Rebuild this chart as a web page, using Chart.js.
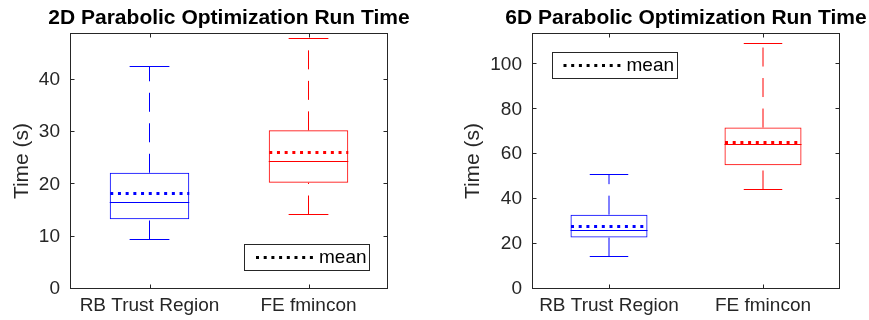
<!DOCTYPE html>
<html>
<head>
<meta charset="utf-8">
<script src="https://cdn.jsdelivr.net/npm/chart.js@4.4.1/dist/chart.umd.min.js"></script>
<style>
  html, body { margin: 0; padding: 0; background: #fff; }
  #wrap { display: flex; width: 869px; height: 320px; }
  canvas { display: block; }
</style>
</head>
<body>
<div id="wrap">
  <canvas id="run2d" width="435" height="320"></canvas>
  <canvas id="run6d" width="434" height="320"></canvas>
</div>
<script>
/* Box plots of optimisation run time, two panels (2D and 6D parabolic).
   Boxes are floating bars, whiskers / medians / means are drawn by a
   small plugin from the arrays below through the chart's own scales. */

const categories = ['RB Trust Region', 'FE fmincon'];
const boxColors = ['#0000ff', '#ff0000'];

// 2D parabolic optimisation run time (s)
const lower2d  = [9.6, 14.3];
const q1_2d    = [13.3, 20.3];
const median2d = [16.7, 24.4];
const q3_2d    = [22.2, 30.3];
const upper2d  = [42.6, 48.0];
const mean2d   = [18.4, 26.1];
const yTicks2d = [0, 10, 20, 30, 40];

// 6D parabolic optimisation run time (s)
const lower6d  = [14.9, 44.4];
const q1_6d    = [22.9, 55.1];
const median6d = [26.1, 64.4];
const q3_6d    = [33.1, 71.9];
const upper6d  = [51.1, 109.7];
const mean6d   = [27.9, 65.6];
const yTicks6d = [0, 20, 40, 60, 80, 100];

const INK = '#262626';
const FONT = "'Liberation Sans', Arial, sans-serif";

Chart.defaults.font.family = FONT;
Chart.defaults.color = INK;

function seg(ctx, x1, y1, x2, y2) {
  ctx.beginPath();
  ctx.moveTo(x1, y1);
  ctx.lineTo(x2, y2);
  ctx.stroke();
}

const snap = v => Math.round(v) + 0.5;

const boxPlot = {
  id: 'boxPlot',
  afterDatasetsDraw(chart, args, o) {
    const { ctx, scales: { y } } = chart;
    const bars = chart.getDatasetMeta(0).data;
    ctx.save();
    bars.forEach((bar, i) => {
      const cx = bar.x, half = bar.width / 2;
      const yLo = snap(y.getPixelForValue(o.lower[i])), yHi = snap(y.getPixelForValue(o.upper[i]));
      ctx.strokeStyle = boxColors[i];
      ctx.lineWidth = 1;
      // whiskers: dashed, drawn from the low end upward
      ctx.setLineDash([19, 11.5]);
      seg(ctx, cx, yLo, cx, y.getPixelForValue(o.q1[i]));
      seg(ctx, cx, y.getPixelForValue(o.q3[i]), cx, yHi);
      ctx.setLineDash([]);
      seg(ctx, cx - half / 2, yLo, cx + half / 2, yLo);
      seg(ctx, cx - half / 2, yHi, cx + half / 2, yHi);
      const yMed = snap(y.getPixelForValue(o.median[i]));
      seg(ctx, cx - half, yMed, cx + half, yMed);
      // mean: thick dotted
      ctx.lineWidth = 3;
      ctx.setLineDash([3, 4.7]);
      const yMean = snap(y.getPixelForValue(o.mean[i]));
      seg(ctx, cx - half + 0.5, yMean, cx + half, yMean);
      ctx.setLineDash([]);
    });
    ctx.restore();
  },
  afterDraw(chart, args, o) {
    const { ctx, chartArea: a, scales: { x, y } } = chart;
    ctx.save();
    // frame + inward ticks on all four sides
    ctx.strokeStyle = INK;
    ctx.lineWidth = 1;
    const L = Math.round(a.left) + 0.5, R = Math.round(a.right) - 0.5;
    const T = Math.round(a.top) + 0.5, B = Math.round(a.bottom) - 0.5;
    ctx.strokeRect(L, T, R - L, B - T);
    y.ticks.forEach(t => {
      const py = Math.round(y.getPixelForValue(t.value)) - 0.5;
      seg(ctx, L, py, L + 4, py);
      seg(ctx, R - 4, py, R, py);
    });
    categories.forEach((c, i) => {
      const px = Math.round(x.getPixelForValue(i)) + 0.5;
      seg(ctx, px, B, px, B - 4);
      seg(ctx, px, T, px, T + 4);
    });

    // title, centred over the axes
    ctx.fillStyle = '#000';
    ctx.font = 'bold 21px ' + FONT;
    ctx.textAlign = 'center';
    ctx.textBaseline = 'alphabetic';
    ctx.fillText(o.title, (a.left + a.right) / 2, 24);

    // legend box with the mean line sample
    const lg = o.legend, w = 125, h = 26;
    const lx = lg.corner === 'se' ? a.right - lg.dx - w : a.left + lg.dx;
    const ly = lg.corner === 'se' ? a.bottom - lg.dy - h : a.top + lg.dy;
    ctx.fillStyle = '#fff';
    ctx.fillRect(lx, ly, w, h);
    ctx.strokeStyle = INK;
    ctx.strokeRect(Math.round(lx) + 0.5, Math.round(ly) + 0.5, w, h);
    ctx.strokeStyle = '#000';
    ctx.lineWidth = 3;
    ctx.setLineDash([3, 4.7]);
    seg(ctx, lx + 12, snap(ly + h / 2), lx + 69, snap(ly + h / 2));
    ctx.setLineDash([]);
    ctx.fillStyle = '#000';
    ctx.font = '19px ' + FONT;
    ctx.textAlign = 'left';
    ctx.fillText('mean', lx + 75, ly + h / 2 + 6);
    ctx.restore();
  }
};

function boxChart(id, d) {
  return new Chart(document.getElementById(id), {
    type: 'bar',
    data: {
      labels: categories,
      datasets: [{
        data: d.q1.map((v, i) => [v, d.q3[i]]),
        backgroundColor: 'rgba(0,0,0,0)',
        borderColor: boxColors,
        borderWidth: 1,
        borderSkipped: false,
        barPercentage: 0.5,
        categoryPercentage: 1.0,
      }],
    },
    options: {
      responsive: false, animation: false,
      layout: { padding: { top: 33, right: d.padRight, bottom: 0, left: 0 } },
      plugins: {
        legend: { display: false }, tooltip: { enabled: false }, title: { display: false },
        boxPlot: d,
      },
      scales: {
        x: {
          grid: { display: false, drawTicks: false },
          border: { display: false },
          ticks: { font: { size: 19 }, color: INK, padding: 5, maxRotation: 0 },
          afterFit: s => { s.height = 31; },
        },
        y: {
          min: 0, max: d.yMax,
          grid: { display: false, drawTicks: false },
          border: { display: false },
          ticks: { font: { size: 19 }, color: INK, padding: 10 },
          afterBuildTicks: s => { s.ticks = d.yTicks.map(v => ({ value: v })); },
          afterFit: s => { s.width = d.yWidth; },
          title: { display: true, text: 'Time (s)', font: { size: 21 }, color: INK, padding: { top: d.yTitlePad, bottom: 0 } },
        },
      },
    },
    plugins: [boxPlot],
  });
}

boxChart('run2d', {
  title: '2D Parabolic Optimization Run Time',
  lower: lower2d, q1: q1_2d, median: median2d, q3: q3_2d, upper: upper2d, mean: mean2d,
  yTicks: yTicks2d, yMax: 48.9,
  yWidth: 70, padRight: 47, yTitlePad: 10,
  legend: { corner: 'se', dx: 19, dy: 19 },
});

boxChart('run6d', {
  title: '6D Parabolic Optimization Run Time',
  lower: lower6d, q1: q1_6d, median: median6d, q3: q3_6d, upper: upper6d, mean: mean6d,
  yTicks: yTicks6d, yMax: 114,
  yWidth: 97, padRight: 29, yTitlePad: 26,
  legend: { corner: 'nw', dx: 19.5, dy: 19 },
});
</script>
</body>
</html>
